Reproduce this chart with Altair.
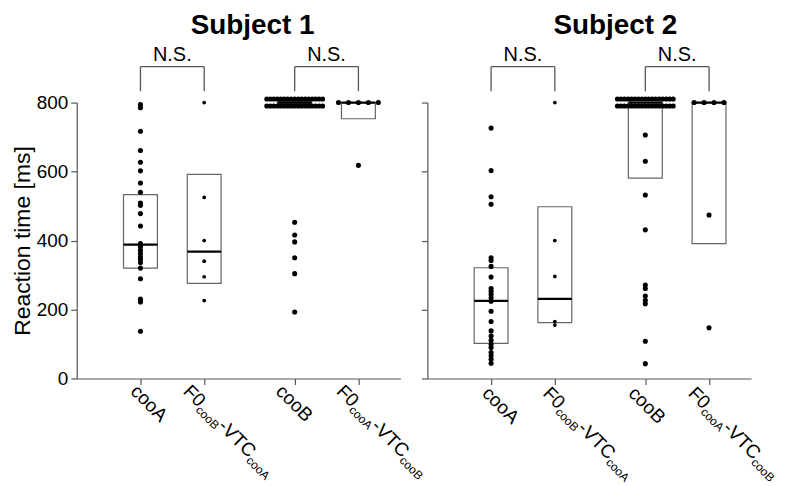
import math
import altair as alt
import pandas as pd

# ---------------- data ----------------
groups = ["cooA", "F0cooB-VTCcooA", "cooB", "F0cooA-VTCcooB"]
group_pos = [1.0, 2.0, 3.42, 4.42]          # category positions on the x scale

# x tick labels split into main text / subscript pieces
label_main1 = ["cooA", "F0", "cooB", "F0"]
label_sub1 = ["", "cooB", "", "cooA"]
label_main2 = ["", "-VTC", "", "-VTC"]
label_sub2 = ["", "cooA", "", "cooB"]

# Subject 1 reaction times (ms)
s1_cooA = [794, 785, 717, 661, 627, 602, 567, 540, 509, 502, 478, 442,
           391, 382, 372, 362, 353, 346, 336, 320, 289, 230, 222, 137]
s1_f0b = [800, 525, 400, 340, 295, 226]
s1_cooB = [800] * 34 + [453, 416, 396, 350, 304, 193]   # 34 trials at the 800 ms ceiling
s1_f0a = [800] * 5 + [618]
s1_q1 = [320, 276, 797, 753]
s1_med = [388, 368, 800, 800]
s1_q3 = [533, 592, 803, 800]

# Subject 2 reaction times (ms)
s2_cooA = [726, 603, 527, 505, 350, 342, 325, 294, 261, 253, 244, 234, 224,
           195, 165, 138, 123, 111, 99, 90, 75, 66, 56, 44]
s2_f0b = [800, 400, 296, 165, 155]
s2_cooB = [800] * 34 + [706, 630, 532, 431, 271, 261, 239, 227, 217, 108, 43]
s2_f0a = [800] * 4 + [474, 147]
s2_q1 = [102, 162, 581, 391]
s2_med = [225, 231, 800, 800]
s2_q3 = [321, 498, 800, 800]

comparisons = [(0, 1, "N.S."), (2, 3, "N.S.")]
bracket_top = 904
bracket_leg = 833

# ---------------- layout / style ----------------
W, H = 325, 277
X_MAX = 5.08
Y_MAX = 800
PXU = W / X_MAX           # pixels per x unit
PXMS = H / Y_MAX          # pixels per ms
BOX_HALF = 17 / PXU
FONT = "Liberation Sans, Arial, Helvetica, sans-serif"
GREY = "#555555"
dot_sizes = [26, 14, 26, 26]
LAB_FS, SUB_FS = 19, 12

xscale = alt.Scale(domain=[0, X_MAX], nice=False, zero=False)
yscale = alt.Scale(domain=[0, Y_MAX], nice=False)


def swarm(values, pos, size):
    rows = []
    counts = pd.Series(values).value_counts(sort=False)
    for v, n in counts.items():
        per_row = min(n, 17)
        nrows = math.ceil(n / per_row)
        spacing = 10.0 if per_row <= 6 else 56.0 / (per_row - 1)
        left = n
        for r in range(nrows):
            k = min(per_row, left)
            left -= k
            yoff = (r - (nrows - 1) / 2) * 7.0
            for i in range(k):
                xoff = (i - (k - 1) / 2) * spacing
                rows.append({"x": pos + xoff / PXU, "y": v - yoff / PXMS, "sz": size})
    return rows


def panel(series, q1, med, q3, title, title_x, first, nudges, label_y):
    dots = []
    for g, vals in enumerate(series):
        dots += swarm(vals, group_pos[g], dot_sizes[g])
    dots = pd.DataFrame(dots)

    boxes = pd.DataFrame({
        "lo": [p - BOX_HALF for p in group_pos],
        "hi": [p + BOX_HALF for p in group_pos],
        "q1": q1, "med": med, "q3": q3,
    })

    br = pd.DataFrame([{"a": group_pos[a], "b": group_pos[b],
                        "mid": (group_pos[a] + group_pos[b]) / 2,
                        "top": bracket_top, "leg": bracket_leg, "txt": t}
                       for a, b, t in comparisons])
    legs = pd.DataFrame([{"xl": group_pos[i], "top": bracket_top, "leg": bracket_leg}
                         for a, b, _ in comparisons for i in (a, b)])

    lab = pd.DataFrame({
        "lx": [p + n / PXU for p, n in zip(group_pos, nudges)],
        "m1": label_main1, "s1": label_sub1, "m2": label_main2, "s2": label_sub2,
    })

    yaxis = alt.Axis(values=[0, 200, 400, 600, 800], labels=first,
                     title="Reaction time [ms]" if first else None, grid=False)
    xaxis = alt.Axis(values=group_pos, labels=False, title=None, grid=False)

    box_l = alt.Chart(boxes).mark_rect(fillOpacity=0, stroke="#666666", strokeWidth=1.2).encode(
        x=alt.X("lo:Q", scale=xscale, axis=xaxis), x2="hi:Q",
        y=alt.Y("q1:Q", scale=yscale, axis=yaxis), y2="q3:Q")
    med_l = alt.Chart(boxes).mark_rule(color="black", strokeWidth=2.2).encode(
        x=alt.X("lo:Q", scale=xscale), x2="hi:Q", y=alt.Y("med:Q", scale=yscale))
    dot_l = alt.Chart(dots).mark_circle(color="black", opacity=1, clip=False).encode(
        x=alt.X("x:Q", scale=xscale), y=alt.Y("y:Q", scale=yscale),
        size=alt.Size("sz:Q", scale=None, legend=None))
    br_h = alt.Chart(br).mark_rule(color=GREY, strokeWidth=1.3, clip=False).encode(
        x=alt.X("a:Q", scale=xscale), x2="b:Q", y=alt.Y("top:Q", scale=yscale))
    br_v = alt.Chart(legs).mark_rule(color=GREY, strokeWidth=1.3, clip=False).encode(
        x=alt.X("xl:Q", scale=xscale), y=alt.Y("leg:Q", scale=yscale), y2="top:Q")
    ns = alt.Chart(br).mark_text(font=FONT, fontSize=20, baseline="alphabetic",
                                 align="center", dy=-6, color="black", clip=False).encode(
        x=alt.X("mid:Q", scale=xscale), y=alt.Y("top:Q", scale=yscale), text="txt:N")
    ttl = alt.Chart(pd.DataFrame({"x": [title_x], "t": [title]})).mark_text(
        font=FONT, fontSize=28, fontWeight="bold", align="center",
        baseline="alphabetic", color="black", clip=False).encode(
        x=alt.X("x:Q", scale=xscale), y=alt.value(-69), text="t:N")

    def piece(col, dx, dy, fs):
        return alt.Chart(lab).transform_filter(f"datum.{col} != ''").mark_text(
            font=FONT, fontSize=fs, angle=45, align="left", baseline="alphabetic",
            dx=dx, dy=dy, color="black", clip=False).encode(
            x=alt.X("lx:Q", scale=xscale), y=alt.value(label_y), text=f"{col}:N")

    w_f0 = 1.167 * LAB_FS
    w_sub = 2.279 * SUB_FS
    w_vtc = 2.333 * LAB_FS
    labels = (piece("m1", 0, 0, LAB_FS) + piece("s1", w_f0, 4, SUB_FS) +
              piece("m2", w_f0 + w_sub, 0, LAB_FS) +
              piece("s2", w_f0 + w_sub + w_vtc, 4, SUB_FS))

    return alt.layer(box_l, med_l, dot_l, br_h, br_v, ns, ttl, labels).properties(
        width=W, height=H)


p1 = panel([s1_cooA, s1_f0b, s1_cooB, s1_f0a], s1_q1, s1_med, s1_q3,
           "Subject 1", 2.76, True, [-11, -22, -20, -23], H + 14)
p2 = panel([s2_cooA, s2_f0b, s2_cooB, s2_f0a], s2_q1, s2_med, s2_q3,
           "Subject 2", 2.95, False, [-10, -13, -18, -22], H + 16)

chart = alt.hconcat(p1, p2, spacing=27, bounds="flush").properties(
    padding={"left": 3, "top": 3, "right": 2, "bottom": 2}
).configure_view(stroke=None).configure_axis(
    domainColor=GREY, tickColor=GREY, domainWidth=1.2, tickWidth=1.2, tickSize=6,
    labelFont=FONT, labelFontSize=19, labelColor="black", labelPadding=3,
    titleFont=FONT, titleFontSize=23, titleFontWeight="normal", titleColor="black",
    titlePadding=2,
)

chart.save("out.html", embed_options={"renderer": "svg", "actions": False})
